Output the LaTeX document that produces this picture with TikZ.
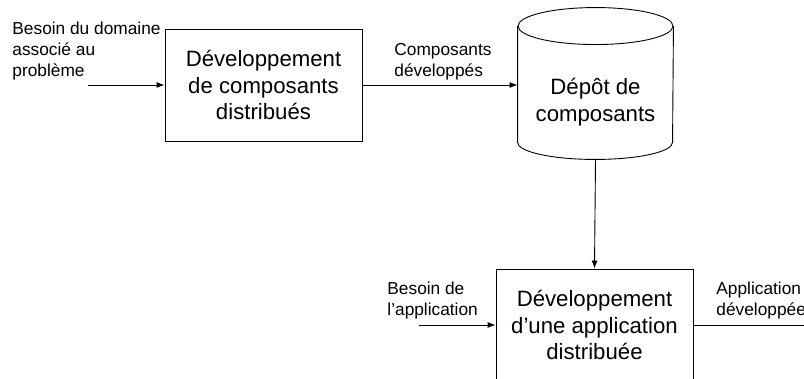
\documentclass[tikz,border=0pt]{standalone}
\usepackage{fontspec}
\setmainfont{Liberation Sans}
\usetikzlibrary{arrows.meta}
\newcommand{\petit}{\fontsize{17.3}{21}\selectfont}
\newcommand{\grand}{\fontsize{22.2}{26.5}\selectfont}
\begin{document}
\begin{tikzpicture}[>={Latex[length=8pt,width=6pt]}, x=1pt, y=-1pt, line width=0.9pt,
    process/.style={draw, minimum width=197pt, minimum height=112pt, inner sep=0pt, align=center, font=\grand},
    flowtext/.style={anchor=west, align=left, inner sep=0pt, font=\petit}]
      % Frame (picture cut at bottom and right)
      \useasboundingbox (0,0) rectangle (804,379);
      \clip (0,0) rectangle (804,379);

      % Processes
      \node[process] (devcomp) at (263.5,85) {Développement\\de composants\\distribués};
      \node[process] (devapp) at (594.5,325) {Développement\\d’une application\\distribuée};

      % Repository (body of the cylinder, drawn round the node)
      \node[minimum width=155pt, minimum height=114pt, inner sep=0pt, align=center, font=\grand] (depot) at (595.5,102) {Dépôt de\\composants};
      \draw ([yshift=18.5pt]depot.north) ellipse [x radius=77.5pt, y radius=18.5pt];
      \draw ([yshift=18.5pt]depot.north west) -- ([yshift=17pt]depot.south west)
            arc [start angle=180, end angle=360, x radius=77.5pt, y radius=17pt]
            -- ([yshift=18.5pt]depot.north east);

      % Flow labels
      \node[flowtext] (besdom) at (12,51) {Besoin du domaine\\associé au\\problème};
      \node[flowtext] (compdev) at (394,61.5) {Composants\\développés};
      \node[flowtext] (besapp) at (387,301) {Besoin de\\l’application};
      \node[flowtext] (appdev) at (716,301) {Application\\développée};

      % Connectors
      \coordinate (in1) at (88,85);
      \coordinate (in2) at (419,325);
      \coordinate (out2) at (815,325);
      \draw[->] (in1) -- (devcomp.west);
      \draw[->] (devcomp.east) -- (devcomp.east -| depot.west);
      \draw[->] (depot.south) -- (devapp.north);
      \draw[->] (in2) -- (devapp.west);
      \draw[->] (devapp.east) -- (out2);
\end{tikzpicture}
\end{document}
